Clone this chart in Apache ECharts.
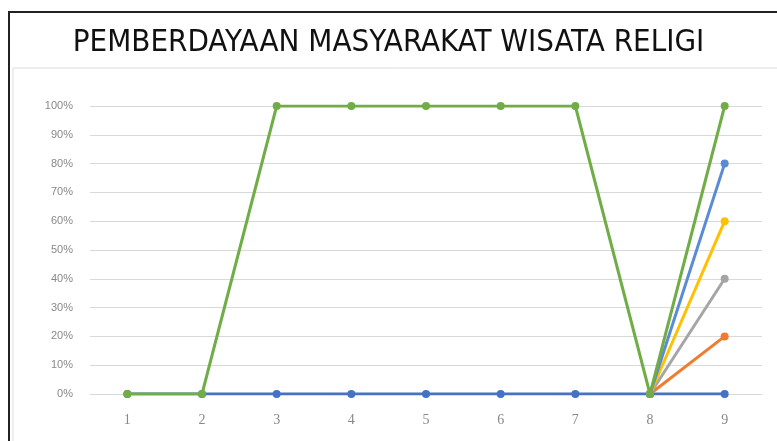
<!DOCTYPE html>
<html><head><meta charset="utf-8">
<script src="https://cdn.jsdelivr.net/npm/echarts@6/dist/echarts.min.js"></script>
<style>html,body{margin:0;padding:0;background:#fff}#c{width:777px;height:441px}</style>
</head><body><div id="c"></div>
<script>
const categories = ['1','2','3','4','5','6','7','8','9'];
const seriesBlue = [0,0,0,0,0,0,0,0,0];
const seriesOrange = [null,null,null,null,null,null,null,0,20];
const seriesGray = [null,null,null,null,null,null,null,0,40];
const seriesYellow = [null,null,null,null,null,null,null,0,60];
const seriesLightBlue = [null,null,null,null,null,null,null,0,80];
const seriesGreen = [0,0,100,100,100,100,100,0,100];
const yTicks = [0,10,20,30,40,50,60,70,80,90,100];
const titleText = 'PEMBERDAYAAN MASYARAKAT WISATA RELIGI';

const chart = echarts.init(document.getElementById('c'));
function s(name, data, color, z){
  return {name, type:'line', data, z, symbol:'circle', symbolSize:8,
    lineStyle:{color, width:3}, itemStyle:{color}, connectNulls:false, animation:false};
}
chart.setOption({
  animation:false,
  title:{text:titleText, left:'center', top:22,
    textStyle:{fontFamily:'DejaVu Sans Condensed', fontWeight:'normal', fontSize:31, color:'#111'}},
  graphic:[{type:'rect', shape:{x:9,y:12,width:790,height:440}, style:{fill:'none', stroke:'#222', lineWidth:2}},
           {type:'rect', shape:{x:13,y:68,width:780,height:380}, style:{fill:'none', stroke:'#ddd', lineWidth:1}}],
  grid:{left:90, right:15, top:106, bottom:47},
  xAxis:{type:'category', data:categories, boundaryGap:true,
    axisLine:{lineStyle:{color:'#d9d9d9'}}, axisTick:{show:false},
    axisLabel:{color:'#888', fontSize:14, margin:19, fontFamily:'Liberation Serif'}},
  yAxis:{type:'value', min:0, max:100, interval:10,
    axisLabel:{formatter:v=>v+'%', color:'#888', fontSize:11, margin:17, fontFamily:'Liberation Sans'},
    splitLine:{lineStyle:{color:'#d9d9d9'}}, axisLine:{show:false}, axisTick:{show:false}},
  series:[
    s('S1', seriesBlue, '#4472C4', 2),
    s('S2', seriesOrange, '#ED7D31', 3),
    s('S3', seriesGray, '#A5A5A5', 4),
    s('S4', seriesYellow, '#FFC000', 5),
    s('S5', seriesLightBlue, '#5B8BD5', 6),
    s('S6', seriesGreen, '#70AD47', 7)
  ]
});
</script></body></html>
